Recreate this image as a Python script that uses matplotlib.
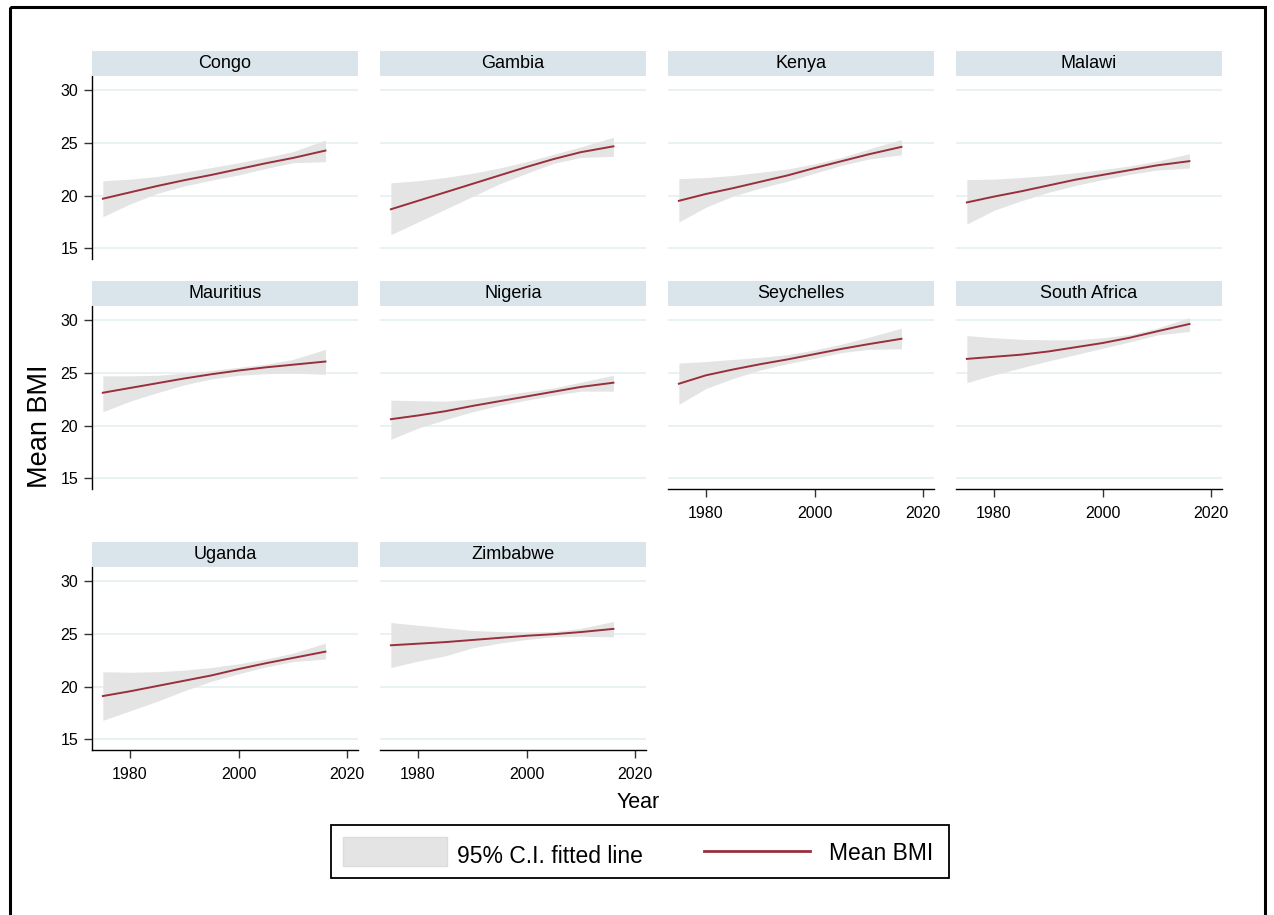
import matplotlib
matplotlib.use("Agg")
import matplotlib.pyplot as plt
from matplotlib.patches import Rectangle
from matplotlib.lines import Line2D

plt.rcParams["font.family"] = ["Liberation Sans", "DejaVu Sans"]

# ---- data: fitted mean BMI and 95% CI by survey year ----
years = [1975, 1980, 1985, 1990, 1995, 2000, 2005, 2010, 2016]

countries = ["Congo", "Gambia", "Kenya", "Malawi", "Mauritius",
             "Nigeria", "Seychelles", "South Africa", "Uganda", "Zimbabwe"]

congo_mean = [19.7, 20.3, 20.9, 21.45, 21.95, 22.5, 23.05, 23.55, 24.25]
congo_hi = [21.4, 21.55, 21.8, 22.2, 22.65, 23.1, 23.6, 24.15, 25.25]
congo_lo = [18.0, 19.2, 20.2, 20.9, 21.45, 21.95, 22.55, 23.1, 23.2]

gambia_mean = [18.7, 19.5, 20.3, 21.1, 21.9, 22.7, 23.45, 24.1, 24.65]
gambia_hi = [21.2, 21.4, 21.7, 22.1, 22.6, 23.2, 23.9, 24.6, 25.5]
gambia_lo = [16.3, 17.5, 18.7, 19.9, 21.1, 22.1, 23.05, 23.6, 23.7]

kenya_mean = [19.5, 20.15, 20.7, 21.3, 21.9, 22.6, 23.25, 23.9, 24.6]
kenya_hi = [21.6, 21.7, 21.9, 22.2, 22.5, 23.0, 23.6, 24.4, 25.3]
kenya_lo = [17.5, 18.9, 19.95, 20.7, 21.35, 22.1, 22.85, 23.45, 23.85]

malawi_mean = [19.35, 19.9, 20.4, 20.95, 21.5, 21.95, 22.4, 22.85, 23.25]
malawi_hi = [21.5, 21.55, 21.7, 21.9, 22.15, 22.45, 22.8, 23.25, 23.95]
malawi_lo = [17.3, 18.6, 19.5, 20.3, 20.95, 21.5, 22.0, 22.4, 22.6]

mauritius_mean = [23.1, 23.55, 24.0, 24.45, 24.85, 25.2, 25.5, 25.75, 26.05]
mauritius_hi = [24.7, 24.7, 24.75, 24.95, 25.2, 25.5, 25.8, 26.25, 27.2]
mauritius_lo = [21.3, 22.3, 23.1, 23.85, 24.4, 24.75, 24.9, 24.95, 24.85]

nigeria_mean = [20.6, 20.95, 21.35, 21.85, 22.3, 22.75, 23.2, 23.65, 24.05]
nigeria_hi = [22.4, 22.35, 22.3, 22.5, 22.85, 23.2, 23.55, 24.1, 24.75]
nigeria_lo = [18.7, 19.75, 20.55, 21.3, 21.9, 22.4, 22.85, 23.25, 23.25]

seychelles_mean = [23.95, 24.75, 25.3, 25.8, 26.25, 26.75, 27.25, 27.7, 28.2]
seychelles_hi = [25.9, 26.05, 26.25, 26.45, 26.7, 27.15, 27.7, 28.35, 29.2]
seychelles_lo = [22.0, 23.5, 24.45, 25.25, 25.85, 26.35, 26.9, 27.2, 27.25]

south_africa_mean = [26.3, 26.5, 26.7, 27.0, 27.4, 27.8, 28.3, 28.9, 29.6]
south_africa_hi = [28.5, 28.3, 28.15, 28.1, 28.1, 28.3, 28.6, 29.2, 30.2]
south_africa_lo = [24.05, 24.8, 25.45, 26.1, 26.7, 27.3, 27.9, 28.55, 28.9]

uganda_mean = [19.1, 19.55, 20.05, 20.55, 21.05, 21.65, 22.2, 22.7, 23.3]
uganda_hi = [21.4, 21.35, 21.4, 21.55, 21.8, 22.15, 22.6, 23.15, 24.1]
uganda_lo = [16.8, 17.7, 18.6, 19.6, 20.5, 21.2, 21.85, 22.35, 22.6]

zimbabwe_mean = [23.9, 24.05, 24.2, 24.4, 24.6, 24.8, 24.95, 25.15, 25.45]
zimbabwe_hi = [26.05, 25.8, 25.55, 25.3, 25.2, 25.15, 25.2, 25.5, 26.15]
zimbabwe_lo = [21.8, 22.4, 22.9, 23.65, 24.1, 24.45, 24.7, 24.75, 24.7]

series = {
    "Congo": (congo_mean, congo_lo, congo_hi),
    "Gambia": (gambia_mean, gambia_lo, gambia_hi),
    "Kenya": (kenya_mean, kenya_lo, kenya_hi),
    "Malawi": (malawi_mean, malawi_lo, malawi_hi),
    "Mauritius": (mauritius_mean, mauritius_lo, mauritius_hi),
    "Nigeria": (nigeria_mean, nigeria_lo, nigeria_hi),
    "Seychelles": (seychelles_mean, seychelles_lo, seychelles_hi),
    "South Africa": (south_africa_mean, south_africa_lo, south_africa_hi),
    "Uganda": (uganda_mean, uganda_lo, uganda_hi),
    "Zimbabwe": (zimbabwe_mean, zimbabwe_lo, zimbabwe_hi),
}

y_ticks = [15, 20, 25, 30]
x_ticks = [1980, 2000, 2020]

# ---- styling ----
LINE_COLOR = "#9a2f3c"
BAND_COLOR = "#e4e4e4"
STRIP_COLOR = "#d9e5eb"
GRID_COLOR = "#e8f0f2"

W, H = 1274, 915
fig = plt.figure(figsize=(W / 100, H / 100), dpi=100)
fig.patch.set_facecolor("white")


def px_rect(x0, y0, x1, y1):
    """Convert a pixel box (top-left origin) into figure fractions."""
    return [x0 / W, 1 - y1 / H, (x1 - x0) / W, (y1 - y0) / H]


col_x = [92, 380, 668, 956]
row_y = [76, 306, 567]
panel_w, panel_h, strip_h = 266, 183, 25
n_cols = 4

for i, name in enumerate(countries):
    r, c = divmod(i, n_cols)
    x0, y0 = col_x[c], row_y[r]
    # a panel shows the x axis when nothing sits below it
    bottom = (i + n_cols) >= len(countries)

    ax = fig.add_axes(px_rect(x0, y0, x0 + panel_w, y0 + panel_h))
    mean, lo, hi = series[name]
    ax.fill_between(years, lo, hi, color=BAND_COLOR, lw=0, zorder=2)
    ax.plot(years, mean, color=LINE_COLOR, lw=1.4, zorder=3,
            solid_joinstyle="round")

    ax.set_xlim(1973, 2022)
    ax.set_ylim(14.0, 31.3)
    ax.set_yticks(y_ticks)
    ax.set_xticks(x_ticks)
    ax.grid(axis="y", color=GRID_COLOR, lw=1.3, zorder=0)
    ax.set_axisbelow(True)

    for s in ("top", "right"):
        ax.spines[s].set_visible(False)
    ax.spines["left"].set_visible(c == 0)
    ax.spines["bottom"].set_visible(bottom)
    for s in ("left", "bottom"):
        ax.spines[s].set_linewidth(1.0)
        ax.spines[s].set_color("black")

    if c == 0:
        ax.tick_params(axis="y", length=6, width=1, color="#333333",
                       labelsize=11.5, pad=4)
    else:
        ax.tick_params(axis="y", length=0, labelleft=False)
    if bottom:
        ax.tick_params(axis="x", length=6, width=1, color="#333333",
                       labelsize=11.5, pad=6)
    else:
        ax.tick_params(axis="x", length=0, labelbottom=False)

    # panel header strip
    sax = fig.add_axes(px_rect(x0, y0 - strip_h, x0 + panel_w, y0))
    sax.set_facecolor(STRIP_COLOR)
    sax.set_xticks([])
    sax.set_yticks([])
    for s in sax.spines.values():
        s.set_visible(False)
    sax.text(0.5, 0.5, name, ha="center", va="center", fontsize=13,
             transform=sax.transAxes)

# ---- overlay for shared titles, legend and frame (pixel coordinates) ----
ov = fig.add_axes([0, 0, 1, 1], zorder=5)
ov.set_xlim(0, W)
ov.set_ylim(H, 0)
ov.axis("off")

ov.text(40, 426, "Mean BMI", rotation=90, ha="center", va="center",
        fontsize=19.5)
ov.text(638, 803, "Year", ha="center", va="center", fontsize=15.5)

ov.add_patch(Rectangle((331, 825), 618, 53, fill=False, ec="black", lw=1.3))
ov.add_patch(Rectangle((343, 837), 104, 29, fc=BAND_COLOR, ec="#dcdcdc",
                       lw=1.0))
ov.text(457, 863, "95% C.I. fitted line", ha="left", va="baseline",
        fontsize=16.5)
ov.add_line(Line2D([704, 810], [851, 851], color=LINE_COLOR, lw=2.0))
ov.text(829, 860, "Mean BMI", ha="left", va="baseline", fontsize=16.5)

ov.add_patch(Rectangle((10, 6.5), 1255, 1000, fill=False, ec="black",
                       lw=2.2, clip_on=False))

fig.savefig("out.png", dpi=100)
